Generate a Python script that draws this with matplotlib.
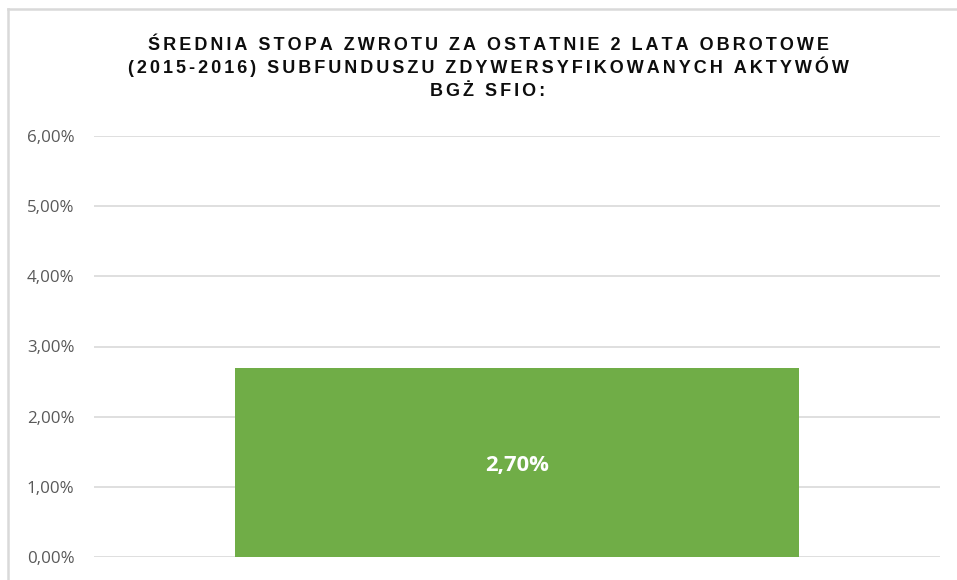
import matplotlib
matplotlib.use("Agg")
import matplotlib.pyplot as plt
from matplotlib.lines import Line2D
from matplotlib.ticker import FuncFormatter

# ---- data ----
categories = [""]
values = [2.70]  # percent
yticks = [0, 1, 2, 3, 4, 5, 6]
title_lines = [
    "ŚREDNIA STOPA ZWROTU ZA OSTATNIE 2 LATA OBROTOWE",
    "(2015-2016) SUBFUNDUSZU ZDYWERSYFIKOWANYCH AKTYWÓW",
    "BGŻ SFIO:",
]

W, H = 957, 580
fig = plt.figure(figsize=(W / 100, H / 100), dpi=100)
fig.patch.set_facecolor("white")

# axes placement (pixels)
left, right, top, bottom = 94, 940, 136, 557
ax = fig.add_axes([left / W, (H - bottom) / H, (right - left) / W, (bottom - top) / H])

x = list(range(len(categories)))
bars = ax.bar(x, values, width=0.667, color="#70AD47", zorder=3)
ax.set_xlim(-0.5, len(categories) - 0.5)
ax.set_ylim(0, 6)
ax.set_yticks(yticks)
ax.yaxis.set_major_formatter(FuncFormatter(lambda v, p: f"{v:.2f}%".replace(".", ",")))
ax.set_xticks([])
for s in ax.spines.values():
    s.set_visible(False)
ax.grid(axis="y", color="#D9D9D9", lw=1.2, zorder=0)
ax.tick_params(axis="y", length=0, pad=14, labelsize=12.2, labelcolor="#595959")
for lbl in ax.get_yticklabels():
    lbl.set_fontfamily(["Open Sans", "DejaVu Sans"])

# data label
for xi, v in zip(x, values):
    ax.annotate(f"{v:.2f}%".replace(".", ","), xy=(xi, v / 2), xytext=(0, -2),
                textcoords="offset points", ha="center", va="center",
                color="white", fontsize=15.8, fontweight="bold",
                family=["Open Sans", "DejaVu Sans"], zorder=4)

# title with letter spacing
def spaced(s):
    return "\u2006".join(s)

baselines = [50, 73, 96]
for line, b in zip(title_lines, baselines):
    fig.text(488 / W, 1 - b / H, spaced(line), ha="center", va="baseline",
             fontsize=13, fontweight="bold", color="#0D0D0D",
             family=["Liberation Sans Narrow", "Liberation Sans", "DejaVu Sans"])

# chart frame
fc = "#D9D9D9"
fig.add_artist(Line2D([8 / W, 8 / W], [0, 1 - 9 / H], transform=fig.transFigure, color=fc, lw=1.8))
fig.add_artist(Line2D([8 / W, 1], [1 - 9 / H, 1 - 9 / H], transform=fig.transFigure, color=fc, lw=1.8))

fig.savefig("out.png", dpi=100)
